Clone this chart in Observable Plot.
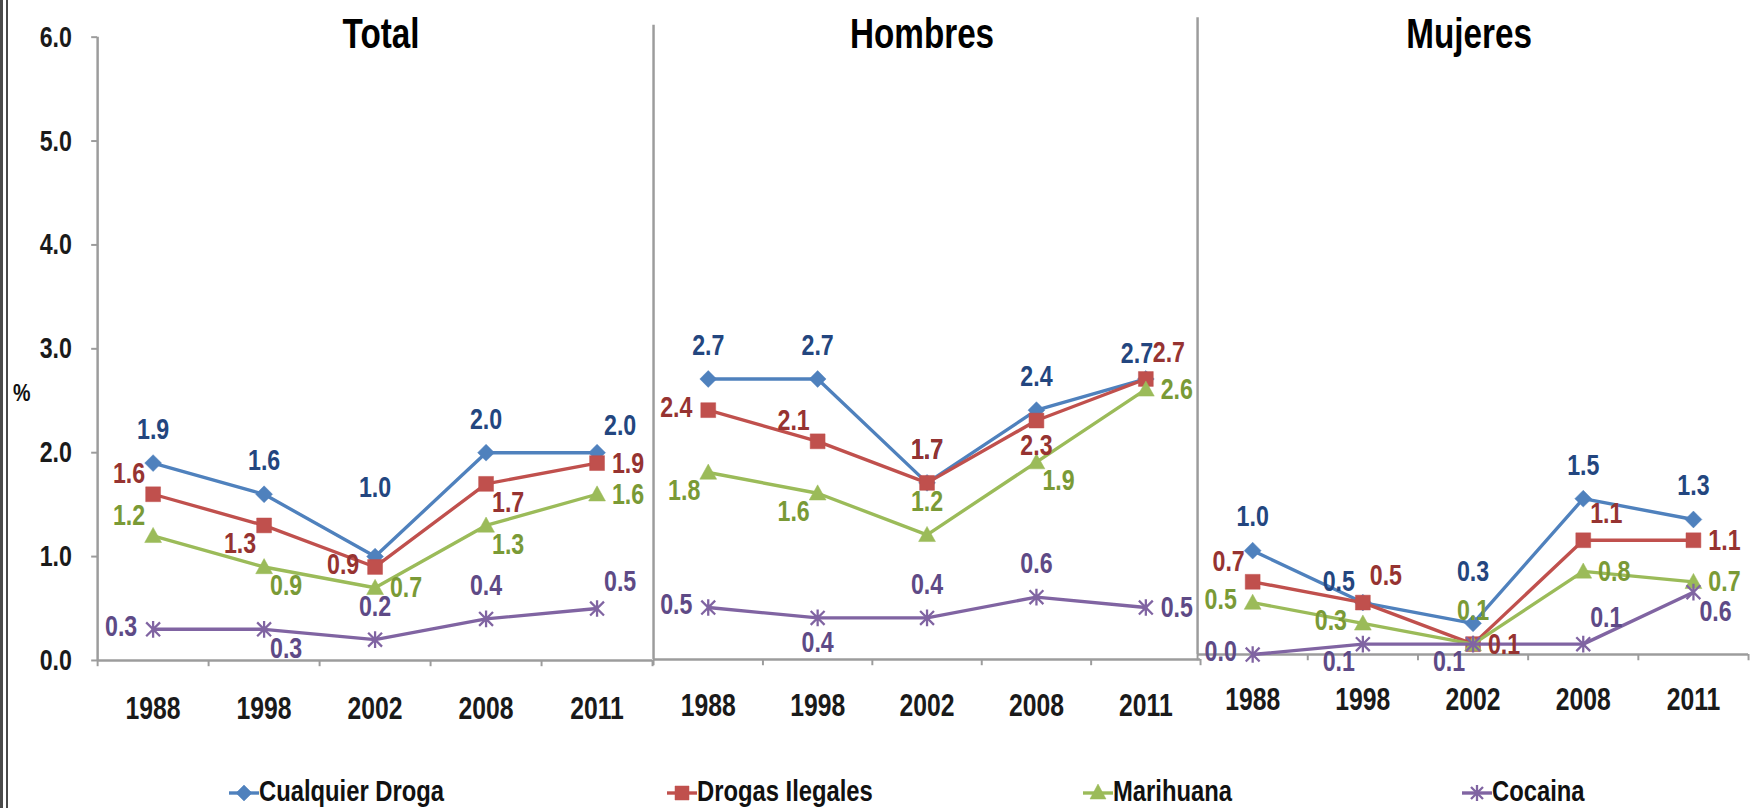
<!DOCTYPE html>
<html>
<head>
<meta charset="utf-8">
<script src="https://cdn.jsdelivr.net/npm/d3@7"></script>
<script src="https://cdn.jsdelivr.net/npm/@observablehq/plot@0.6"></script>
<style>
  html, body { margin: 0; padding: 0; background: #fff; width: 1754px; height: 808px; overflow: hidden; }
  #root { position: relative; width: 1754px; height: 808px; overflow: hidden;
          font-family: 'Liberation Sans', Arial, sans-serif; font-weight: bold; }
  #root > svg { position: absolute; left: 0; top: 0; }
  .edge { position: absolute; top: 0; height: 808px; background: #4a4a4a; }
  #pct { position: absolute; left: 13px; top: 379px; font-size: 24px; color: #111; transform: scaleX(0.82); transform-origin: left center; }
  .leg { position: absolute; top: 775px; height: 32px; line-height: 32px; font-size: 29px; color: #111; white-space: nowrap; }
  .leg svg { vertical-align: middle; }
  .leg span { display: inline-block; transform: scaleX(0.82); transform-origin: left center; }
</style>
</head>
<body>
<div id="root">
  <div class="edge" style="left:0px;width:3px"></div>
  <div class="edge" style="left:6px;width:2px"></div>
  <div id="pct">%</div>
</div>
<script>
const FONT = "'Liberation Sans', Arial, sans-serif";
const SQUEEZE = 0.78;

// ---------- data ----------
const years = ["1988", "1998", "2002", "2008", "2011"];
const seriesNames = ["Cualquier Droga", "Drogas Ilegales", "Marihuana", "Cocaina"];
const panelTitles = ["Total", "Hombres", "Mujeres"];
const yTicks = [0, 1, 2, 3, 4, 5, 6];

const totalCualquier   = [1.9, 1.6, 1.0, 2.0, 2.0];
const totalIlegales    = [1.6, 1.3, 0.9, 1.7, 1.9];
const totalMarihuana   = [1.2, 0.9, 0.7, 1.3, 1.6];
const totalCocaina     = [0.3, 0.3, 0.2, 0.4, 0.5];

const hombresCualquier = [2.7, 2.7, 1.7, 2.4, 2.7];
const hombresIlegales  = [2.4, 2.1, 1.7, 2.3, 2.7];
const hombresMarihuana = [1.8, 1.6, 1.2, 1.9, 2.6];
const hombresCocaina   = [0.5, 0.4, 0.4, 0.6, 0.5];

const mujeresCualquier = [1.0, 0.5, 0.3, 1.5, 1.3];
const mujeresIlegales  = [0.7, 0.5, 0.1, 1.1, 1.1];
const mujeresMarihuana = [0.5, 0.3, 0.1, 0.8, 0.7];
const mujeresCocaina   = [0.0, 0.1, 0.1, 0.1, 0.6];

// ---------- label placement (where each value label sits around its point) ----------
const totalLabelPos = [
  ["T", "T", "TT", "T", "TR"],
  ["TL", "BL", "L", "BR", "R"],
  ["TL", "BR", "R", "BR", "R"],
  ["L", "BR", "T", "T", "TR"]
];
const hombresLabelPos = [
  ["T", "T", "T", "T", "TN"],
  ["L", "TL", "T", "B", "TR"],
  ["BL", "BL", "T", "BR", "R"],
  ["L", "B", "T", "T", "R"]
];
const mujeresLabelPos = [
  ["T", "TL", "TM", "T", "T"],
  ["TL", "TR", "R", "TR", "R"],
  ["L", "L", "T", "R", "R"],
  ["L", "BL", "BL", "TR", "BR"]
];

// ---------- styles ----------
const lineColors  = ["#4F81BD", "#C0504D", "#9BBB59", "#8064A2"];
const labelColors = ["#23467f", "#963331", "#7a9a36", "#5e4a86"];
const placements = {
  T:  {dx: 0,   dy: -34, a: "middle"},
  TN: {dx: -9,  dy: -26, a: "middle"},
  TM: {dx: 0,   dy: -52, a: "middle"},
  TT: {dx: 0,   dy: -70, a: "middle"},
  B:  {dx: 0,   dy: 25,  a: "middle"},
  L:  {dx: -16, dy: -3,  a: "end"},
  R:  {dx: 15,  dy: 0,   a: "start"},
  TL: {dx: -8,  dy: -21, a: "end"},
  TR: {dx: 7,   dy: -27, a: "start"},
  BL: {dx: -8,  dy: 18,  a: "end"},
  BR: {dx: 6,   dy: 19,  a: "start"}
};

const sym = (f) => ({draw(ctx, size) { f(ctx, Math.sqrt(size / Math.PI)); }});
const symbols = [
  sym((c, r) => { c.moveTo(0, -r); c.lineTo(r, 0); c.lineTo(0, r); c.lineTo(-r, 0); c.closePath(); }),
  sym((c, r) => { c.rect(-r, -r, 2 * r, 2 * r); }),
  sym((c, r) => { c.moveTo(0, -r); c.lineTo(r, 0.8 * r); c.lineTo(-r, 0.8 * r); c.closePath(); }),
  sym((c, r) => { c.moveTo(-r, -r); c.lineTo(r, r); c.moveTo(r, -r); c.lineTo(-r, r); c.moveTo(0, -1.2 * r); c.lineTo(0, 1.2 * r); })
];
const symR = [8.5, 7.5, 8.5, 7];

const panels = [
  {title: panelTitles[0], values: [totalCualquier, totalIlegales, totalMarihuana, totalCocaina], pos: totalLabelPos,
   left: 98, right: 658, y0: 666, y6: 37, lineTop: 6.0, yAxis: true, titleDx: 6, yearPad: 36},
  {title: panelTitles[1], values: [hombresCualquier, hombresIlegales, hombresMarihuana, hombresCocaina], pos: hombresLabelPos,
   left: 659, right: 1211, y0: 665, y6: 36, lineTop: 6.105, yAxis: false, titleDx: -5, yearPad: 34},
  {title: panelTitles[2], values: [mujeresCualquier, mujeresIlegales, mujeresMarihuana, mujeresCocaina], pos: mujeresLabelPos,
   left: 1208, right: 1764, y0: 660, y6: 31, lineTop: 6.13, yAxis: false, titleDx: -4, yearPad: 33}
];

const W = 1770, H = 808;
const root = document.getElementById("root");

// narrow the (Arial-metric) glyphs horizontally around each text's own anchor
function squeeze(svg, s) {
  svg.querySelectorAll("text").forEach(t => {
    let tr = t.getAttribute("transform") || "";
    const x = t.getAttribute("x");
    if (x != null && /^-?[\d.]+$/.test(x)) {
      tr += ` translate(${+x},0)`;
      t.removeAttribute("x");
    }
    t.setAttribute("transform", `${tr} scale(${s},1)`.trim());
  });
}

for (const p of panels) {
  const marks = [];
  const boundaries = d3.range(years.length + 1).map(i => i - 0.5);
  marks.push(Plot.ruleY([0], {stroke: "#9c9c9c", strokeWidth: 2.5}));
  marks.push(Plot.ruleX([boundaries[0]], {y1: 0, y2: p.lineTop, stroke: "#9c9c9c", strokeWidth: 2.5}));
  marks.push(Plot.ruleX(boundaries, {y1: 0, y2: -0.06, stroke: "#9c9c9c", strokeWidth: 2}));
  if (p.yAxis) {
    marks.push(Plot.axisY({ticks: yTicks, tickFormat: d3.format(".1f"), tickSize: 6, tickPadding: 20, label: null,
      fontSize: 30, stroke: "#9c9c9c", strokeWidth: 2, fill: "#1a1a1a"}));
  }
  marks.push(Plot.axisX({ticks: d3.range(years.length), tickFormat: i => years[i], tickSize: 0, tickPadding: p.yearPad,
    label: null, fontSize: 32, fill: "#1a1a1a"}));
  marks.push(Plot.text([p.title], {frameAnchor: "top", dy: 34 - p.y6, dx: p.titleDx, fontSize: 43, fill: "#000", lineAnchor: "middle"}));

  const rowsBySeries = p.values.map((vals, s) => vals.map((v, i) => ({
    series: seriesNames[s], i, year: years[i], value: v, pos: p.pos[s][i]
  })));

  rowsBySeries.forEach((rows, s) => {
    marks.push(Plot.line(rows, {x: "i", y: "value", stroke: lineColors[s], strokeWidth: 3.4}));
    const isStroke = s === 3;
    marks.push(Plot.dot(rows, {x: "i", y: "value", symbol: symbols[s], r: symR[s],
      fill: isStroke ? "none" : lineColors[s], stroke: lineColors[s], strokeWidth: isStroke ? 2.3 : 0.5}));
  });
  rowsBySeries.forEach((rows, s) => {
    for (const [code, pl] of Object.entries(placements)) {
      const sub = rows.filter(d => d.pos === code);
      if (!sub.length) continue;
      marks.push(Plot.text(sub, {x: "i", y: "value", text: d => d.value.toFixed(1),
        dx: pl.dx, dy: pl.dy, textAnchor: pl.a, fontSize: 30, fill: labelColors[s]}));
    }
  });

  const svg = Plot.plot({
    width: W, height: H,
    marginLeft: p.left, marginRight: W - p.right, marginTop: p.y6, marginBottom: H - p.y0,
    style: {background: "transparent", overflow: "visible", fontFamily: FONT, fontWeight: "bold"},
    x: {domain: [-0.5, years.length - 0.5], label: null},
    y: {domain: [0, 6], axis: p.yAxis ? undefined : null, label: null},
    marks
  });
  squeeze(svg, SQUEEZE);
  root.appendChild(svg);
}

// ---------- legend ----------
const legendX = [244, 682, 1098, 1477];
const symbolPaths = [
  "M15,4 L23,12 L15,20 L7,12 Z",
  "M8,5 H22 V19 H8 Z",
  "M15,3 L23,18 L7,18 Z",
  "M9,6 L21,18 M21,6 L9,18 M15,4 L15,20"
];
seriesNames.forEach((name, s) => {
  const div = document.createElement("div");
  div.className = "leg";
  div.style.left = (legendX[s] - 15) + "px";
  const fill = s === 3 ? "none" : lineColors[s];
  div.innerHTML = `<svg width="30" height="24" viewBox="0 0 30 24"><line x1="0" y1="12" x2="30" y2="12" stroke="${lineColors[s]}" stroke-width="3.4"/><path d="${symbolPaths[s]}" fill="${fill}" stroke="${lineColors[s]}" stroke-width="${s === 3 ? 2.3 : 0.5}"/></svg><span>${name}</span>`;
  root.appendChild(div);
});
</script>
</body>
</html>
